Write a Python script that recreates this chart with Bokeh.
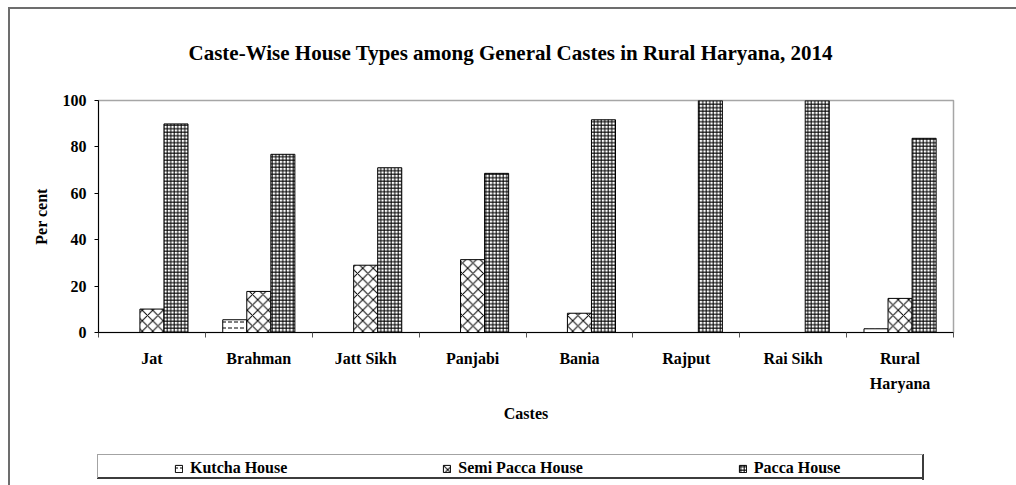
from bokeh.plotting import figure
from bokeh.layouts import column
from bokeh.models import ColumnDataSource, FixedTicker, Legend, LegendItem
from bokeh.embed import file_html
from bokeh.resources import INLINE

# Share of households (%) by house type for each caste group, 2014
castes = ["Jat", "Brahman", "Jatt Sikh", "Panjabi", "Bania", "Rajput",
          "Rai Sikh", "Rural Haryana"]
tick_labels = ["Jat", "Brahman", "Jatt Sikh", "Panjabi", "Bania", "Rajput",
               "Rai Sikh", "Rural\nHaryana"]
kutcha = [0.0, 5.5, 0.0, 0.0, 0.0, 0.0, 0.0, 1.6]
semi_pacca = [10.1, 17.7, 29.0, 31.4, 8.3, 0.0, 0.0, 14.7]
pacca = [89.9, 76.8, 71.0, 68.6, 91.7, 100.0, 100.0, 83.7]
series_names = ["Kutcha House", "Semi Pacca House", "Pacca House"]
y_ticks = [0, 20, 40, 60, 80, 100]

SERIF = "Liberation Serif"
BAR_W = 0.225


def strip(color, x, y, w, h):
    """A solid CSS background layer for the page border and legend box."""
    return f"linear-gradient({color},{color}) {x}px {y}px / {w}px {h}px no-repeat"


page_layers = [
    strip("#a3a3a3", 97, 454, 826, 1),     # legend box top
    strip("#a3a3a3", 97, 454, 1, 24),      # legend box left
    strip("#3c3c3c", 922, 454, 2, 26),     # legend box right + shadow
    strip("#3c3c3c", 97, 477, 827, 2),     # legend box bottom + shadow
    strip("#6d6d6d", 8, 7, 1100, 2),       # outer border top
    strip("#6d6d6d", 8, 7, 2, 600),        # outer border left
    "white",
]

centers = [i + 0.5 for i in range(len(castes))]
boundaries = list(range(len(castes) + 1))

# ---------------------------------------------------------------- main chart
p = figure(width=1016, height=440,
           output_backend="svg", toolbar_location=None,
           x_range=(0, len(castes)), y_range=(0, 100),
           min_border_left=98, min_border_right=63,
           min_border_top=100, min_border_bottom=108,
           background_fill_color="white", border_fill_alpha=0)

p.xgrid.visible = False
p.ygrid.visible = False
p.outline_line_color = "#a6a6a6"
p.outline_line_width = 1.5

p.title.text = "Caste-Wise House Types among General Castes in Rural Haryana, 2014"
p.title.text_font = SERIF
p.title.text_font_size = "21px"
p.title.text_font_style = "bold"
p.title.text_color = "black"
p.title.align = "left"
p.title.offset = 90
p.title.standoff = 72

# Bars: three series per caste, side by side
styles = [
    dict(hatch_pattern="horizontal_dash", hatch_scale=6),
    dict(hatch_pattern="diagonal_cross", hatch_scale=10.5),
    dict(hatch_pattern="cross", hatch_scale=3.5),
]
bar_look = dict(fill_color="white", line_color="black", line_width=1,
                hatch_color="black", hatch_weight=1)
offsets = [-BAR_W, 0.0, BAR_W]
for vals, off, st in zip([kutcha, semi_pacca, pacca], offsets, styles):
    src = ColumnDataSource(dict(x=[c + off for c in centers], top=vals,
                                caste=castes))
    p.vbar(x="x", top="top", width=BAR_W, bottom=0, source=src,
           **bar_look, **st)

# X axis: labels at category centres, ticks between categories
xa = p.xaxis[0]
xa.ticker = FixedTicker(ticks=centers, minor_ticks=boundaries)
xa.major_label_overrides = {c: t for c, t in zip(centers, tick_labels)}
xa.major_tick_line_color = None
xa.major_tick_out = 0
xa.major_tick_in = 0
xa.minor_tick_out = 5
xa.minor_tick_in = 0
xa.minor_tick_line_color = "#555555"
xa.axis_line_color = "black"
xa.major_label_text_font = SERIF
xa.major_label_text_font_size = "16px"
xa.major_label_text_font_style = "bold"
xa.major_label_text_color = "black"
xa.major_label_text_line_height = 1.5
xa.major_label_standoff = 12
xa.axis_label = "Castes"
xa.axis_label_text_font = SERIF
xa.axis_label_text_font_size = "16px"
xa.axis_label_text_font_style = "bold"
xa.axis_label_text_color = "black"
xa.axis_label_standoff = 10

# Y axis
ya = p.yaxis[0]
ya.ticker = FixedTicker(ticks=y_ticks)
ya.major_tick_out = 4
ya.major_tick_in = 0
ya.minor_tick_line_color = None
ya.axis_line_color = "black"
ya.major_tick_line_color = "black"
ya.major_label_text_font = SERIF
ya.major_label_text_font_size = "16px"
ya.major_label_text_font_style = "bold"
ya.major_label_text_color = "black"
ya.major_label_standoff = 8
ya.axis_label = "Per cent"
ya.axis_label_text_font = SERIF
ya.axis_label_text_font_size = "16px"
ya.axis_label_text_font_style = "bold"
ya.axis_label_text_color = "black"
ya.axis_label_standoff = 10

# ---------------------------------------------------------------- legend strip
lf = figure(width=1016, height=45, output_backend="svg",
            toolbar_location=None, x_axis_type=None, y_axis_type=None,
            x_range=(0, 1), y_range=(0, 1),
            min_border_left=98, min_border_right=63,
            min_border_top=14, min_border_bottom=7,
            background_fill_alpha=0, border_fill_alpha=0)
lf.xgrid.visible = False
lf.ygrid.visible = False
lf.outline_line_color = None

# hidden key swatches that share the bar styling
keys = [lf.vbar(x=[0.5], top=[1.0], width=0.1, visible=False,
                **bar_look, **st) for st in styles]

legend = Legend(
    items=[LegendItem(label=n, renderers=[r])
           for n, r in zip(series_names, keys)],
    orientation="horizontal", location=(76, 0),
    padding=2, spacing=155, margin=0, label_standoff=7,
    glyph_width=9, glyph_height=9, label_height=20,
    label_text_font=SERIF, label_text_font_size="16px",
    label_text_font_style="bold", label_text_color="black",
    inactive_fill_alpha=0,
    background_fill_alpha=0, border_line_color=None)
lf.add_layout(legend)

page = column(p, lf, spacing=0, styles={"background": ", ".join(page_layers)})

open("out.html", "w").write(file_html(page, INLINE))
